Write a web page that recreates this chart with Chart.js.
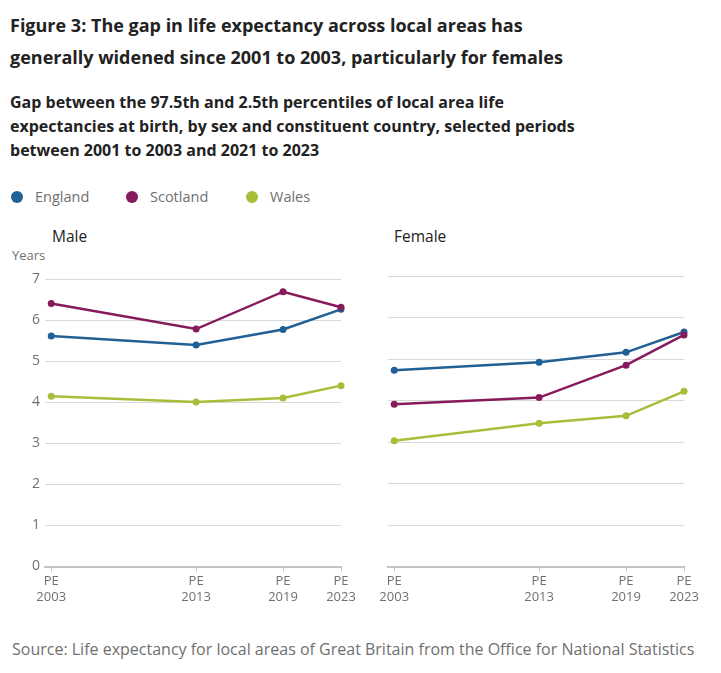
<!DOCTYPE html>
<html>
<head>
<meta charset="utf-8">
<script src="https://cdn.jsdelivr.net/npm/chart.js@4/dist/chart.umd.min.js"></script>
<style>
  body { margin: 0; background: #fff; font-family: "Open Sans", sans-serif; }
  #wrap { position: relative; width: 721px; height: 673px; }
  .title { position: absolute; left: 10px; top: 9px; font-size: 18px; font-weight: 700; line-height: 32px; color: #222; }
  .subtitle { position: absolute; left: 10px; top: 90px; font-size: 16px; font-weight: 700; line-height: 24px; color: #222; }
  .legend { position: absolute; top: 187px; left: 10px; font-size: 14.5px; color: #707070; }
  .legend span.item { position: absolute; white-space: nowrap; line-height: 20px; }
  .legend i { display: inline-block; width: 12px; height: 12px; border-radius: 50%; vertical-align: -1px; margin-right: 12px; }
  .panel { position: absolute; top: 225px; font-size: 15.5px; color: #222; }
  .years { position: absolute; left: 12px; top: 246px; font-size: 13px; color: #707070; }
  .source { position: absolute; left: 12px; top: 638px; font-size: 16px; color: #707070; }
  canvas { position: absolute; }
</style>
</head>
<body>
<div id="wrap">
  <div class="title">Figure 3: The gap in life expectancy across local areas has<br>generally widened since 2001 to 2003, particularly for females</div>
  <div class="subtitle">Gap between the 97.5th and 2.5th percentiles of local area life<br>expectancies at birth, by sex and constituent country, selected periods<br>between 2001 to 2003 and 2021 to 2023</div>
  <div class="legend">
    <span class="item" style="left:1px"><i style="background:#206095"></i>England</span>
    <span class="item" style="left:116px"><i style="background:#871A5B"></i>Scotland</span>
    <span class="item" style="left:236px"><i style="background:#A8BD3A"></i>Wales</span>
  </div>
  <div class="panel" style="left:52px">Male</div>
  <div class="panel" style="left:394px">Female</div>
  <div class="years">Years</div>
  <canvas id="male" width="360" height="345" style="left:0;top:266px"></canvas>
  <canvas id="female" width="351" height="345" style="left:370px;top:266px"></canvas>
  <div class="source">Source: Life expectancy for local areas of Great Britain from the Office for National Statistics</div>
</div>
<script>
// periods (end year of each three-year period)
const years = [2003, 2013, 2019, 2023];
const yTicks = [0, 1, 2, 3, 4, 5, 6, 7];

// gap in years, males
const maleEngland = [5.62, 5.40, 5.78, 6.27];
const maleScotland = [6.41, 5.79, 6.70, 6.32];
const maleWales = [4.15, 4.01, 4.11, 4.41];

// gap in years, females
const femaleEngland = [4.73, 4.92, 5.16, 5.65];
const femaleScotland = [3.91, 4.07, 4.85, 5.58];
const femaleWales = [3.03, 3.45, 3.63, 4.22];

const colours = { england: '#206095', scotland: '#871A5B', wales: '#A8BD3A' };

const toPoints = (vals) => years.map((y, i) => ({ x: y, y: vals[i] }));

const series = (label, vals, colour, order) => ({
  label,
  data: toPoints(vals),
  borderColor: colour,
  backgroundColor: colour,
  borderWidth: 2.5,
  pointRadius: 3.5,
  pointHoverRadius: 3.5,
  pointBorderWidth: 0,
  tension: 0,
  clip: false,
  order,
});

const makeChart = (id, datasets, showY, padding) => new Chart(document.getElementById(id), {
  type: 'line',
  data: { datasets },
  options: {
    responsive: false,
    animation: false,
    layout: { padding },
    plugins: { legend: { display: false }, tooltip: { enabled: false } },
    scales: {
      x: {
        type: 'linear',
        min: 2002.57,
        max: 2023,
        afterBuildTicks: (axis) => { axis.ticks = years.map(v => ({ value: v })); },
        afterFit: (axis) => { axis.height = 44.5; },
        grid: { drawOnChartArea: false, drawTicks: true, tickLength: 5, color: '#c8c8c8' },
        border: { display: true, color: '#c4c4c4', width: 2 },
        ticks: {
          padding: 2,
          maxRotation: 0,
          autoSkip: false,
          color: '#707070',
          font: { family: 'Open Sans', size: 13 },
          callback: (v) => ['PE', String(v)],
        },
      },
      y: {
        min: 0,
        max: 7,
        afterBuildTicks: (axis) => { axis.ticks = yTicks.map(v => ({ value: v })); },
        afterFit: (axis) => { axis.width = showY ? 45 : 0; },
        grid: {
          drawTicks: false,
          color: (ctx) => ctx.tick && ctx.tick.value === 0 ? 'rgba(0,0,0,0)' : '#d9d9d9',
        },
        border: { display: false },
        ticks: {
          display: showY,
          padding: 5,
          color: '#707070',
          font: { family: 'Open Sans', size: 14 },
        },
      },
    },
  },
});

makeChart('male', [
  series('England', maleEngland, colours.england, 3),
  series('Scotland', maleScotland, colours.scotland, 2),
  series('Wales', maleWales, colours.wales, 1),
], true, { top: 10, right: 19, left: 0, bottom: 0 });

makeChart('female', [
  series('England', femaleEngland, colours.england, 3),
  series('Scotland', femaleScotland, colours.scotland, 2),
  series('Wales', femaleWales, colours.wales, 1),
], false, { top: 10, right: 37, left: 18, bottom: 0 });
</script>
</body>
</html>
